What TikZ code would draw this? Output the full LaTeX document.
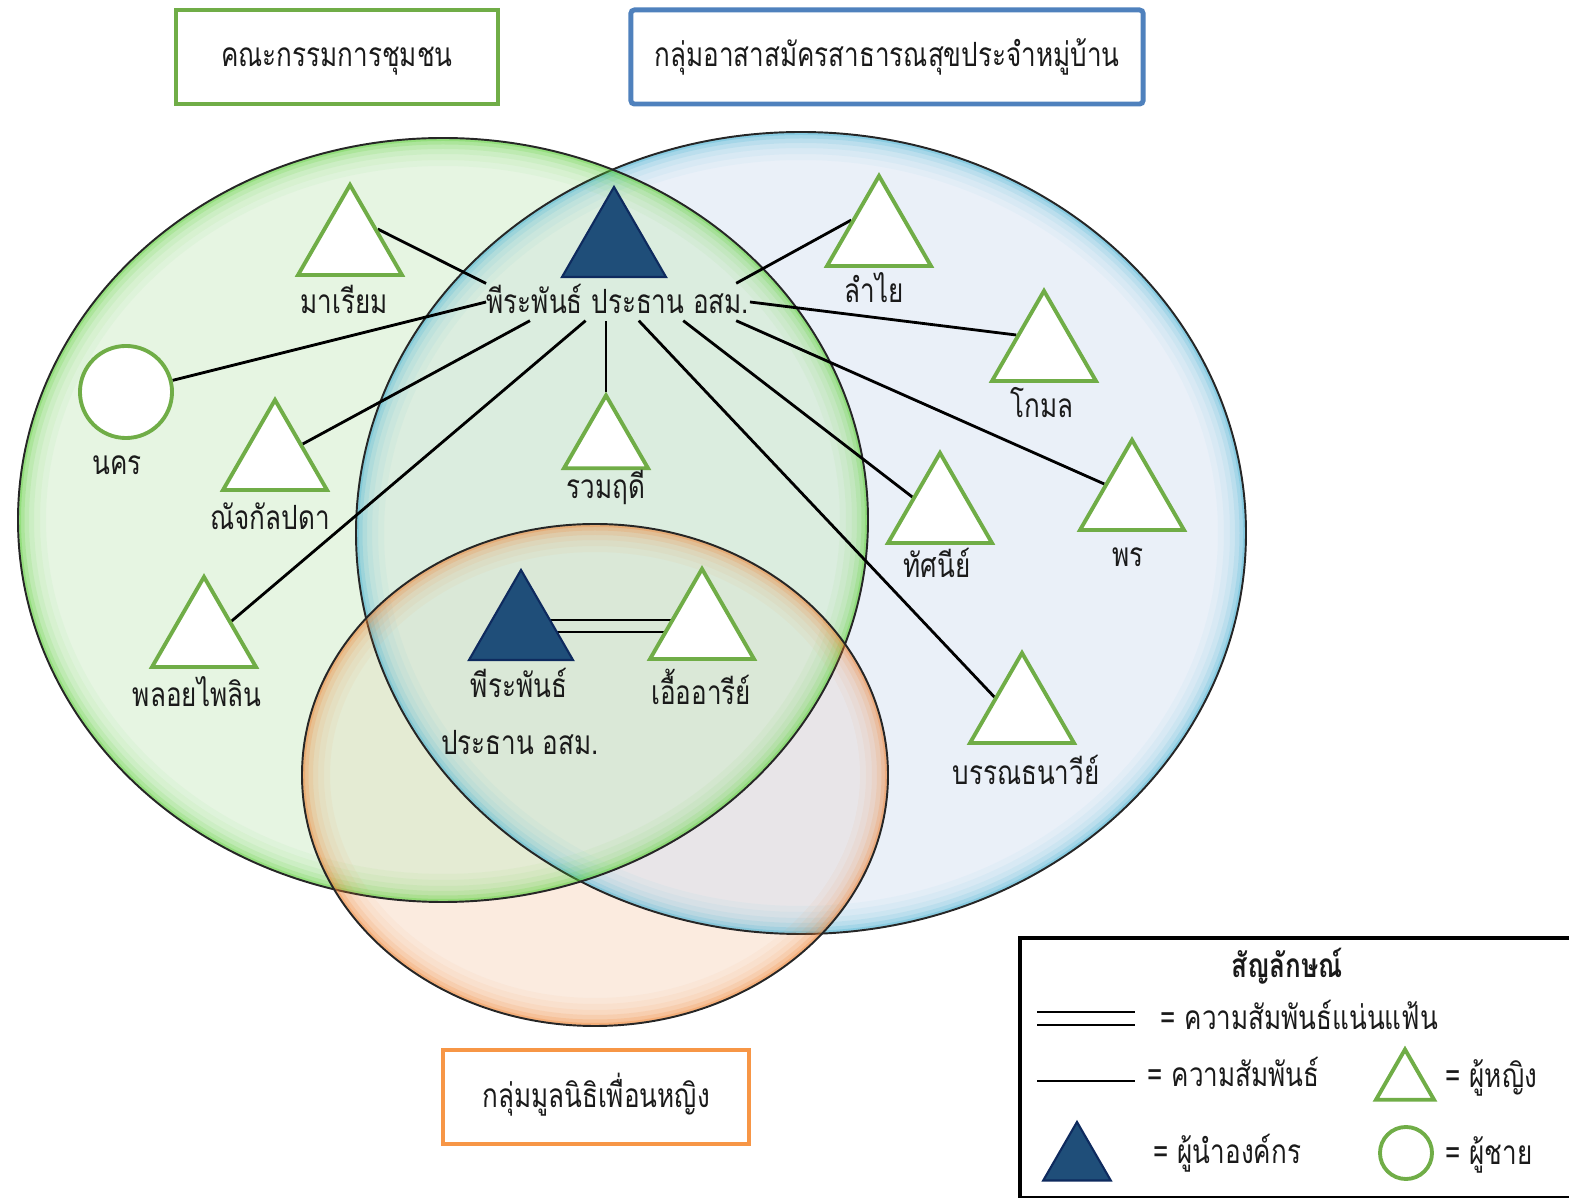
\documentclass[tikz,border=0pt]{standalone}
\usepackage{fontspec}
\newfontfamily\thai[Script=Thai, FakeStretch=0.78]{Loma}
\usetikzlibrary{shapes.geometric}

\definecolor{womangreen}{HTML}{70AD47}
\definecolor{headnavy}{HTML}{1F4E79}
\definecolor{headline}{HTML}{0E2A5E}
\definecolor{boxblue}{HTML}{4F81BD}
\definecolor{boxorange}{HTML}{F79646}
\definecolor{grpgreen}{HTML}{CDEBC6}
\definecolor{grpblue}{HTML}{D5E1F2}
\definecolor{grporange}{HTML}{F7D7C0}
\definecolor{glowgreen}{HTML}{5BD236}
\definecolor{glowblue}{HTML}{45B3D3}
\definecolor{gloworange}{HTML}{F08536}
\definecolor{inktext}{HTML}{1A1A1A}

\pgfdeclarelayer{back}
\pgfdeclarelayer{links}
\pgfsetlayers{back,links,main}

\begin{document}
\begin{tikzpicture}[x=0.01cm, y=-0.01cm,
  every node/.style={font=\thai\fontsize{9.5}{12}\selectfont, text=inktext},
  femalenode/.style={regular polygon, regular polygon sides=3, draw=womangreen, line width=1.1pt, fill=white, minimum size=1.2cm, inner sep=0pt},
  headnode/.style={regular polygon, regular polygon sides=3, draw=headline, line width=0.6pt, fill=headnavy, minimum size=1.2cm, inner sep=0pt},
  malenode/.style={circle, draw=womangreen, line width=1.1pt, fill=white, minimum size=0.92cm, inner sep=0pt},
  namelabel/.style={anchor=base, inner sep=0pt},
  keylabel/.style={anchor=base west, inner sep=0pt},
  relline/.style={line width=0.8pt, black},
  titlebox/.style={draw, line width=1.2pt, fill=white, inner sep=0pt, minimum height=0.94cm, text height=0.2cm, text depth=0cm}]

\useasboundingbox (0,0) rectangle (1569,1198);

% the three groups
\begin{pgfonlayer}{back}
\foreach \cx/\cy/\rx/\ry/\col in {595/775/293/251/grporange, 801/533/445/401/grpblue, 443/520/425/382/grpgreen}
  \fill[\col, fill opacity=0.5] (\cx,\cy) ellipse [x radius=\rx, y radius=\ry];
\foreach \cx/\cy/\rx/\ry/\glow in {801/533/445/401/glowblue, 443/520/425/382/glowgreen, 595/775/293/251/gloworange}
{
  \begin{scope}
    \clip (\cx,\cy) ellipse [x radius=\rx, y radius=\ry];
    \foreach \w/\o in {0.56cm/0.05, 0.44cm/0.06, 0.32cm/0.08, 0.22cm/0.12, 0.13cm/0.18, 0.06cm/0.3}
      \draw[\glow, line width=\w, draw opacity=\o] (\cx,\cy) ellipse [x radius=\rx, y radius=\ry];
  \end{scope}
  \draw[black!85, line width=0.55pt] (\cx,\cy) ellipse [x radius=\rx, y radius=\ry];
}
\end{pgfonlayer}

% group titles
\node[titlebox, draw=womangreen, minimum width=3.22cm] (committee) at (337,57) {คณะกรรมการชุมชน};
\node[titlebox, draw=boxblue, line width=1.4pt, rounded corners=1pt, minimum width=5.12cm] (volunteers) at (887,57) {กลุ่มอาสาสมัครสาธารณสุขประจำหมู่บ้าน};
\node[titlebox, draw=boxorange, minimum width=3.06cm] (foundation) at (596,1097) {กลุ่มมูลนิธิเพื่อนหญิง};

% people
\node[femalenode] (mariam) at (350,245) {};
\node[namelabel] (mariamtxt) at (344,314) {มาเรียม};
\node[headnode] (head) at (614,247) {};
\node[namelabel, text height=0.3cm, text depth=0.06cm] (headtxt) at (618,314) {พีระพันธ์ ประธาน อสม.};
\node[femalenode] (lamyai) at (879,236) {};
\node[namelabel] (lamyaitxt) at (874,303) {ลำไย};
\node[femalenode] (komol) at (1044,351) {};
\node[namelabel] (komoltxt) at (1042,418) {โกมล};
\node[femalenode, minimum size=0.97cm] (ruam) at (606,444) {};
\node[namelabel] (ruamtxt) at (606,499) {รวมฤดี};
\node[femalenode] (natjak) at (275,460) {};
\node[namelabel] (natjaktxt) at (270,530) {ณัจกัลปดา};
\node[malenode] (nakorn) at (126,392) {};
\node[namelabel] (nakorntxt) at (117,475) {นคร};
\node[femalenode] (tassanee) at (940,513) {};
\node[namelabel] (tassaneetxt) at (937,578) {ทัศนีย์};
\node[femalenode] (porn) at (1132,500) {};
\node[namelabel] (porntxt) at (1128,567) {พร};
\node[femalenode] (ploy) at (204,637) {};
\node[namelabel] (ploytxt) at (197,707) {พลอยไพลิน};
\node[headnode] (head2) at (521,630) {};
\node[namelabel] (head2txt) at (519,698) {พีระพันธ์};
\node[namelabel] (head2role) at (520,755) {ประธาน อสม.};
\node[femalenode] (ueaaree) at (702,629) {};
\node[namelabel] (ueaareetxt) at (701,705) {เอื้ออารีย์};
\node[femalenode] (bannathanawee) at (1022,713) {};
\node[namelabel] (bannathanaweetxt) at (1026,785) {บรรณธนาวีย์};

% ties to the head of the volunteers
\begin{pgfonlayer}{links}
\draw[relline] (mariam.side 3) -- (headtxt.172);
\draw[relline] (nakorn) -- (headtxt.west);
\draw[relline] (natjak.side 3) -- (headtxt.192);
\draw[relline] (ploy.side 3) -- (headtxt.210);
\draw[relline] (ruam.corner 1) -- (ruam.corner 1 |- headtxt.south);
\draw[relline] (bannathanawee.side 1) -- (headtxt.318);
\draw[relline] (tassanee.side 1) -- (headtxt.344);
\draw[relline] (porn.side 1) -- (headtxt.351);
\draw[relline] (komol.side 1) -- (headtxt.east);
\draw[relline] (lamyai.side 1) -- (headtxt.9);
% close tie
\draw[relline] ([yshift=0.1cm]head2.center) -- ([yshift=0.1cm]head2.center -| ueaaree.center);
\draw[relline] ([yshift=-0.02cm]head2.center) -- ([yshift=-0.02cm]head2.center -| ueaaree.center);
\end{pgfonlayer}

% legend
\node[draw, line width=1.2pt, minimum width=5.8cm, minimum height=2.6cm, anchor=north west, inner sep=0pt] (legendbox) at (1018,936) {};
\node[namelabel, font=\thai\fontsize{9.5}{12}\selectfont\bfseries] (legendtitle) at (1287,978) {สัญลักษณ์};
\coordinate (closeA) at (1037,1012);
\coordinate (closeB) at (1135,1012);
\coordinate (closeC) at (1037,1025);
\coordinate (closeD) at (1135,1025);
\coordinate (tieA) at (1037,1081);
\coordinate (tieB) at (1135,1081);
\draw[relline] (closeA) -- (closeB);
\draw[relline] (closeC) -- (closeD);
\draw[relline] (tieA) -- (tieB);
\node[keylabel] (closetxt) at (1160,1030) {= ความสัมพันธ์แน่นแฟ้น};
\node[keylabel] (tietxt) at (1147,1087) {= ความสัมพันธ์};
\node[femalenode, minimum size=0.67cm] (keywoman) at (1405,1083) {};
\node[keylabel] (womantxt) at (1445,1088) {= ผู้หญิง};
\node[headnode, minimum size=0.78cm] (keyhead) at (1077,1161) {};
\node[keylabel] (headkeytxt) at (1153,1164) {= ผู้นำองค์กร};
\node[malenode, minimum size=0.52cm] (keyman) at (1406,1153) {};
\node[keylabel] (mantxt) at (1445,1165) {= ผู้ชาย};

\end{tikzpicture}
\end{document}
